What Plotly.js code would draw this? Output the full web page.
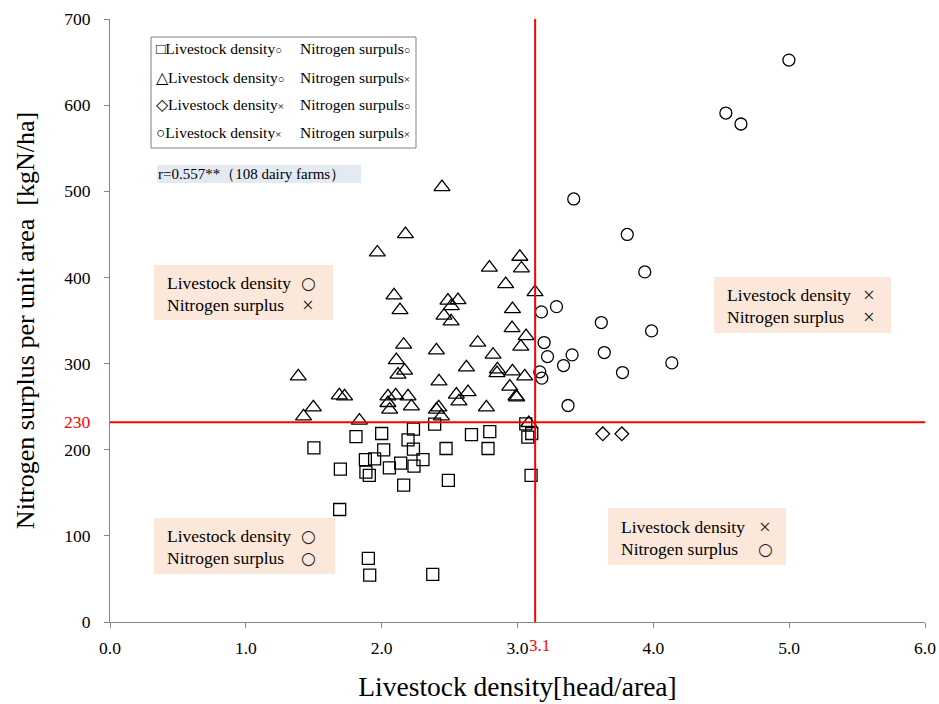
<!DOCTYPE html>
<html><head><meta charset="utf-8">
<script src="https://cdn.plot.ly/plotly-3.0.1.min.js"></script>
<style>html,body{margin:0;padding:0;background:#fff}#chart{width:939px;height:704px}</style>
</head><body><div id="chart"></div>
<script>
// Square: livestock density ○, nitrogen surplus ○
const sqX = [1.501,1.811,2.000,2.234,2.390,2.194,2.015,2.234,2.474,2.661,2.796,2.783,3.061,3.105,3.076,3.100,1.880,1.948,1.696,1.884,1.909,2.057,2.140,2.238,2.304,2.491,2.162,1.691,1.902,1.912,2.376];
const sqY = [202.2,215.3,218.8,223.9,229.7,211.5,199.9,200.7,201.4,217.6,221.1,201.4,230.0,218.8,214.6,170.1,188.6,189.4,177.5,174.0,170.1,179.0,184.5,181.0,188.6,164.3,158.9,130.6,73.8,54.5,55.2];
// Triangle: livestock density ○, nitrogen surplus ×
const trX = [2.444,2.175,1.968,3.017,3.029,2.793,2.913,3.129,2.091,2.135,2.488,2.562,2.513,2.963,2.459,2.511,2.960,3.063,3.024,2.707,2.162,2.403,2.820,2.108,2.169,2.120,2.624,2.852,2.849,2.963,3.053,2.422,2.943,2.989,2.994,1.386,1.688,1.727,1.497,1.425,1.836,2.046,2.103,2.194,2.046,2.059,2.219,2.550,2.636,2.569,2.771,2.403,2.420,2.440,3.083];
const trY = [504.8,450.2,429.0,424.0,410.4,411.3,392.2,382.9,379.1,362.1,373.0,373.7,366.7,363.2,355.6,349.0,341.2,331.9,319.6,324.2,321.9,315.3,310.3,304.1,291.8,287.1,295.6,293.3,289.0,291.0,285.2,279.4,273.2,262.0,260.8,285.2,263.1,262.0,249.2,238.7,233.8,262.0,263.1,262.0,254.2,246.5,250.3,263.9,266.9,256.1,249.2,246.5,249.2,238.7,231.0];
// Diamond: livestock density ×, nitrogen surplus ○
const diX = [3.628,3.768];
const diY = [218.4,218.4];
// Circle: livestock density ×, nitrogen surplus ×
const ciX = [4.998,4.534,4.645,3.414,3.808,3.937,3.287,3.176,3.617,3.987,3.196,3.221,3.402,3.639,3.339,4.136,3.773,3.164,3.179,3.372];
const ciY = [652.3,590.8,578.1,491.1,449.9,406.4,366.1,360.0,347.6,337.9,324.4,308.1,310.1,312.8,297.7,300.8,289.6,290.4,283.1,251.3];

const xTickVals = [0,1,2,3,4,5,6];
const xTickText = ['0.0','1.0','2.0','3.0','4.0','5.0','6.0'];
const yTickVals = [0,100,200,300,400,500,600,700];
const thresholdX = 3.13, thresholdXLabel = '3.1';
const thresholdY = 232, thresholdYLabel = '230';

const legendRows = [
  ['□Livestock density', '○', 'Nitrogen surpuls', '○'],
  ['△Livestock density', '○', 'Nitrogen surpuls', '×'],
  ['◇Livestock density', '×', 'Nitrogen surpuls', '○'],
  ['○Livestock density', '×', 'Nitrogen surpuls', '×']
];
const rText = 'r=0.557**（108 dairy farms）';
const quadBoxes = [
  {box:[154,265,333,320], lines:[['Livestock density','○'],['Nitrogen surplus','×']], tx:165, sx:308},
  {box:[154,518,335,574], lines:[['Livestock density','○'],['Nitrogen surplus','○']], tx:165, sx:308},
  {box:[714,277,891,333], lines:[['Livestock density','×'],['Nitrogen surplus','×']], tx:725, sx:869},
  {box:[608,508,786,565], lines:[['Livestock density','×'],['Nitrogen surplus','○']], tx:619, sx:765}
];

const W=939,H=704,L=110,R=14,T=19,B=82;
const pw=W-L-R, ph=H-T-B;
const px=v=>(v-L)/pw, py=v=>(H-B-v)/ph;
const serif='Liberation Serif, Times New Roman, serif';

const mk=(sym,size)=>({symbol:sym,size:size,color:'#000',line:{color:'#000',width:1.3}});
const traces=[
  {x:sqX,y:sqY,mode:'markers',type:'scatter',marker:mk('square-open',12),name:'sq'},
  {x:trX,y:trY,mode:'markers',type:'scatter',marker:mk('triangle-up-open',14),name:'tr'},
  {x:diX,y:diY,mode:'markers',type:'scatter',marker:mk('diamond-open',10.5),name:'di'},
  {x:ciX,y:ciY,mode:'markers',type:'scatter',marker:mk('circle-open',12),name:'ci'}
];

const shapes=[
  {type:'line',xref:'x',yref:'y',x0:thresholdX,x1:thresholdX,y0:0,y1:700,line:{color:'#ff0000',width:2}},
  {type:'line',xref:'x',yref:'y',x0:0,x1:6,y0:thresholdY,y1:thresholdY,line:{color:'#ff0000',width:2}},
  {type:'rect',xref:'paper',yref:'paper',x0:px(151),x1:px(416),y0:py(148),y1:py(37),line:{color:'#808080',width:1},fillcolor:'#ffffff',layer:'below'},
  {type:'rect',xref:'paper',yref:'paper',x0:px(157),x1:px(361),y0:py(183),y1:py(165),line:{width:0},fillcolor:'#e4eaf2',layer:'below'}
];
const ann=[];
const rowY=[48,77,104,132];
legendRows.forEach((r,i)=>{
  ann.push({xref:'paper',yref:'paper',x:px(154),y:py(rowY[i]),xanchor:'left',yanchor:'middle',showarrow:false,
    text:r[0]+'<span style="font-size:11px">'+r[1]+'</span>',font:{family:serif,size:15.5,color:'#000'}});
  ann.push({xref:'paper',yref:'paper',x:px(298),y:py(rowY[i]),xanchor:'left',yanchor:'middle',showarrow:false,
    text:r[2]+'<span style="font-size:11px">'+r[3]+'</span>',font:{family:serif,size:15.5,color:'#000'}});
});
ann.push({xref:'paper',yref:'paper',x:px(156),y:py(174),xanchor:'left',yanchor:'middle',showarrow:false,
  text:rText,font:{family:serif,size:15,color:'#000'}});
quadBoxes.forEach(q=>{
  const [x0,y0,x1,y1]=q.box;
  shapes.push({type:'rect',xref:'paper',yref:'paper',x0:px(x0),x1:px(x1),y0:py(y1),y1:py(y0),line:{width:0},fillcolor:'#fce8da',layer:'below'});
  const h=(y1-y0);
  const ys=[y0+h*0.33,y0+h*0.72];
  q.lines.forEach((ln,i)=>{
    ann.push({xref:'paper',yref:'paper',x:px(q.tx),y:py(ys[i]),xanchor:'left',yanchor:'middle',showarrow:false,
      text:ln[0],font:{family:serif,size:17.5,color:'#000'}});
    const isX = ln[1]==='×';
    ann.push({xref:'paper',yref:'paper',x:px(q.sx),y:py(ys[i]),xanchor:'center',yanchor:'middle',showarrow:false,
      text:ln[1],font:{family:isX?serif:'DejaVu Sans, sans-serif',size:isX?21:17,color:'#222'}});
  });
});
ann.push({xref:'x',yref:'paper',x:thresholdX+0.035,y:py(645),xanchor:'center',yanchor:'middle',showarrow:false,
  text:thresholdXLabel,font:{family:serif,size:17,color:'#ff0000'}});
ann.push({xref:'paper',yref:'y',x:px(93),y:thresholdY,xanchor:'right',yanchor:'middle',showarrow:false,
  text:thresholdYLabel,font:{family:serif,size:17.5,color:'#ff0000'}});

const layout={
  width:W,height:H,margin:{l:L,r:R,t:T,b:B},
  paper_bgcolor:'#fff',plot_bgcolor:'#fff',showlegend:false,
  font:{family:serif,color:'#000'},
  xaxis:{range:[0,6],tickvals:xTickVals,ticktext:xTickText,showgrid:false,zeroline:false,
    showline:true,linecolor:'#868686',linewidth:1,ticks:'outside',ticklen:5,tickcolor:'#868686',
    tickfont:{family:serif,size:17.5,color:'#000'},ticklabelstandoff:5,
    title:{text:'Livestock density[head/area]',font:{family:serif,size:27.5,color:'#000'},standoff:19}},
  yaxis:{range:[0,700],tickvals:yTickVals,showgrid:false,zeroline:false,
    showline:true,linecolor:'#868686',linewidth:1,ticks:'outside',ticklen:5,tickcolor:'#868686',
    tickfont:{family:serif,size:17.5,color:'#000'},ticklabelstandoff:10,
    title:{text:'Nitrogen surplus per unit area\u2002[kgN/ha]',font:{family:serif,size:26,color:'#000'},standoff:22}},
  shapes:shapes,annotations:ann
};
Plotly.newPlot('chart',traces,layout,{displayModeBar:false,staticPlot:true});
</script></body></html>
